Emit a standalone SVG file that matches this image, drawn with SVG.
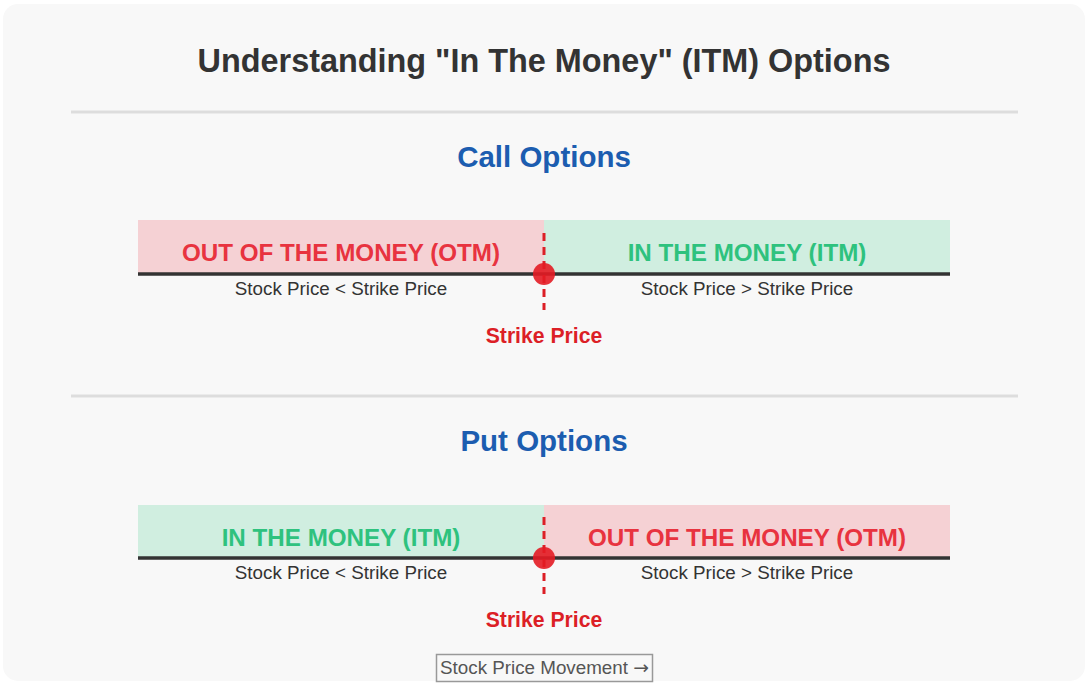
<svg xmlns="http://www.w3.org/2000/svg" width="1089" height="687" viewBox="0 0 1089 687">
<style>
.t{font-family:"Liberation Sans",Arial,sans-serif;text-anchor:middle}
.title{font-size:32.4px;font-weight:bold;fill:#333}
.sec{font-size:29.5px;font-weight:bold;fill:#1c5db0}
.otm{font-size:24.2px;font-weight:bold;fill:#e8333f}
.itm{font-size:24.2px;font-weight:bold;fill:#2ec27e}
.sub{font-size:18.8px;fill:#333}
.strike{font-size:21.2px;font-weight:bold;fill:#dc1f26}
.div{stroke:#ddd;stroke-width:3}
.axis{stroke:#333;stroke-width:3.5}
.dash{stroke:#dc1f26;stroke-width:3;stroke-dasharray:8,6}
.dot{fill:#e31b23;opacity:0.9}
.pink{fill:#f5d1d4}
.green{fill:#d0eee0}
</style>
<rect x="0" y="0" width="1089" height="687" fill="#ffffff"/>
<rect x="3" y="4" width="1082" height="677" rx="15" fill="#f8f8f8"/>
<text class="t title" x="544" y="72">Understanding "In The Money" (ITM) Options</text>
<line class="div" x1="71" y1="112" x2="1018" y2="112"/>
<g id="call">
<text class="t sec" x="544" y="167">Call Options</text>
<g id="call-otm"><rect class="pink" x="138" y="220" width="406" height="54"/>
<text class="t otm" x="341" y="261">OUT OF THE MONEY (OTM)</text>
<text class="t sub" x="341" y="295">Stock Price &lt; Strike Price</text></g>
<g id="call-itm"><rect class="green" x="544" y="220" width="406" height="54"/>
<text class="t itm" x="747" y="261">IN THE MONEY (ITM)</text>
<text class="t sub" x="747" y="295">Stock Price &gt; Strike Price</text></g>
<g id="call-strike"><line class="axis" x1="138" y1="274" x2="950" y2="274"/>
<line class="dash" x1="544" y1="233" x2="544" y2="310"/>
<circle class="dot" cx="544" cy="274" r="11"/>
<text class="t strike" x="544" y="343">Strike Price</text></g>
</g>
<line class="div" x1="71" y1="396" x2="1018" y2="396"/>
<g id="put">
<text class="t sec" x="544" y="451">Put Options</text>
<g id="put-itm"><rect class="green" x="138" y="505" width="406" height="53"/>
<text class="t itm" x="341" y="546">IN THE MONEY (ITM)</text>
<text class="t sub" x="341" y="579">Stock Price &lt; Strike Price</text></g>
<g id="put-otm"><rect class="pink" x="544" y="505" width="406" height="53"/>
<text class="t otm" x="747" y="546">OUT OF THE MONEY (OTM)</text>
<text class="t sub" x="747" y="579">Stock Price &gt; Strike Price</text></g>
<g id="put-strike"><line class="axis" x1="138" y1="558" x2="950" y2="558"/>
<line class="dash" x1="544" y1="517" x2="544" y2="594"/>
<circle class="dot" cx="544" cy="558" r="11"/>
<text class="t strike" x="544" y="627">Strike Price</text></g>
</g>
<g id="movement">
<rect x="436.5" y="654.5" width="216" height="27" fill="none" stroke="#999" stroke-width="1.5"/>
<text class="t" x="544.5" y="674" font-size="18.8" fill="#555">Stock Price Movement <tspan font-family="'DejaVu Sans',sans-serif">→</tspan></text>
</g>
</svg>
